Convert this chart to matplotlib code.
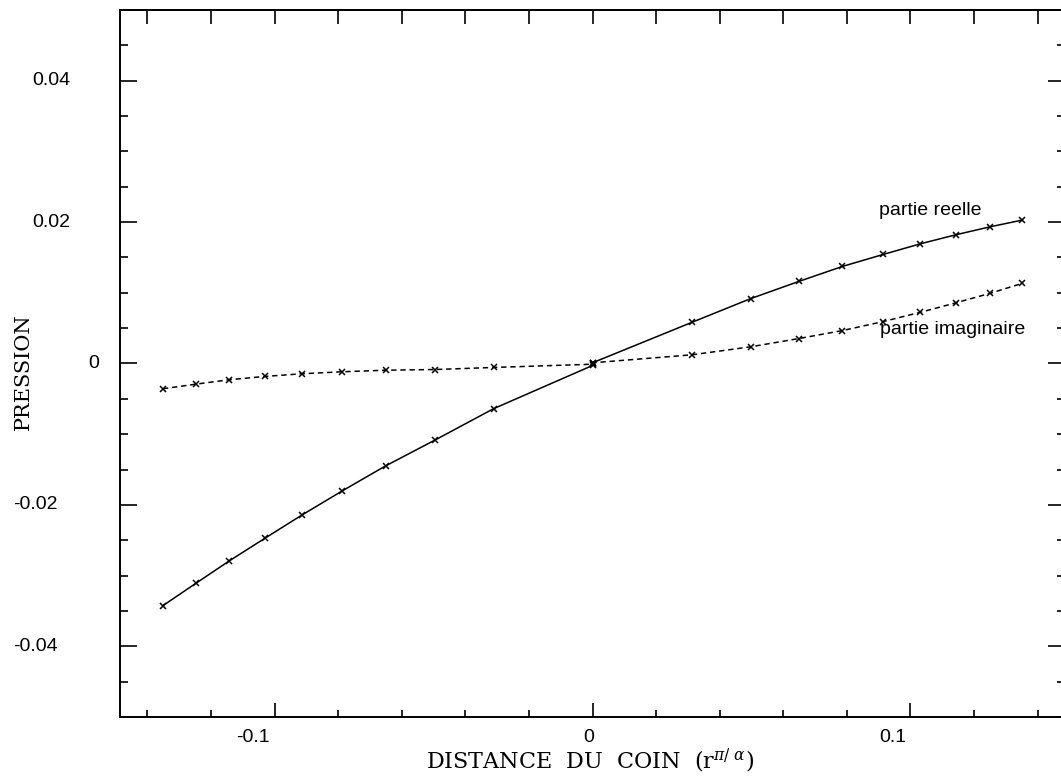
import numpy as np
import matplotlib
matplotlib.use("Agg")
import matplotlib.pyplot as plt
import matplotlib.transforms as mtransforms
from matplotlib.ticker import MultipleLocator

# points (left branch ends at 0, right branch starts at 0)
x_left = [-0.1351, -0.1247, -0.1143, -0.1031, -0.0913, -0.0787, -0.0651, -0.0495, -0.0311, 0.0]
x_right = [0.0, 0.0313, 0.0497, 0.0649, 0.0786, 0.0914, 0.1031, 0.1142, 0.1250, 0.1351]
reel_left = [-0.03425, -0.03108, -0.02794, -0.02474, -0.02141, -0.01802, -0.01449, -0.01082, -0.00639, -0.00028]
reel_right = [0.0001, 0.00583, 0.00917, 0.01161, 0.01373, 0.01542, 0.01693, 0.0182, 0.01933, 0.02028]
imag_left = [-0.00357, -0.00292, -0.0023, -0.00183, -0.00145, -0.00117, -0.00095, -0.00085, -0.00056, -0.0001]
imag_right = [0.0001, 0.00123, 0.00236, 0.00353, 0.00466, 0.00593, 0.00724, 0.00857, 0.00992, 0.01133]

xticks = [-0.1, 0.0, 0.1]
xtick_labels = ["-0.1", "0", "0.1"]
yticks = [0.04, 0.02, 0.0, -0.02, -0.04]
ytick_labels = ["0.04", "0.02", "0", "-0.02", "-0.04"]

plt.rcParams['mathtext.fontset'] = 'dejavuserif'
sans = 'Liberation Sans'
serif = 'DejaVu Serif'

fig = plt.figure(figsize=(10.61, 7.81), dpi=100)
ax = fig.add_axes([120/1061, 1 - 717/781, 945/1061, 707/781])

x = x_left + x_right
ax.plot(x, reel_left + reel_right, color='black', lw=1.1, marker='x', ms=5, mew=1.1)
ax.plot(x, imag_left + imag_right, color='black', lw=1.1, ls=(0, (3.5, 2.5)),
        marker='x', ms=5, mew=1.1)

ax.set_xlim(-0.1486, 0.1486)
ax.set_ylim(-0.05, 0.05)
for s in ax.spines.values():
    s.set_linewidth(1.4)

ax.xaxis.set_major_locator(MultipleLocator(0.1))
ax.xaxis.set_minor_locator(MultipleLocator(0.02))
ax.yaxis.set_major_locator(MultipleLocator(0.02))
ax.yaxis.set_minor_locator(MultipleLocator(0.005))
ax.tick_params(axis='x', which='major', direction='in', length=10, width=1.2, labelbottom=False)
ax.tick_params(axis='x', which='minor', direction='in', length=5, width=1.2)
ax.tick_params(axis='y', which='major', direction='in', length=12.5, width=1.2,
               right=True, labelleft=False)
ax.tick_params(axis='y', which='minor', direction='in', length=6, width=1.2, right=True)

# top axis: all ticks same length
top = ax.secondary_xaxis('top')
top.set_xticks(np.arange(-0.14, 0.1401, 0.02))
top.tick_params(direction='in', length=10, width=1.2, labeltop=False)
top.spines['top'].set_linewidth(1.4)

# tick labels, placed like the original
px = fig.dpi_scale_trans
ycent = [51, 51, 93.5, 35, 35]
for v, lab, cx in zip(yticks, ytick_labels, ycent):
    tr = mtransforms.blended_transform_factory(fig.transFigure, ax.transData)
    ax.text(cx/1061, v, lab, transform=tr, ha='center', va='center',
            fontsize=14, family=sans)
xoff = [-22, -4, -18]
for v, lab, dx in zip(xticks, xtick_labels, xoff):
    tr = mtransforms.blended_transform_factory(ax.transData, fig.transFigure)
    tr = tr + mtransforms.ScaledTranslation(dx/100, 0, px)
    ax.text(v, 1 - 737/781, lab, transform=tr, ha='center', va='center',
            fontsize=14, family=sans)

ax.text(0.0900, 0.0217, "partie reelle", ha='left', va='center', fontsize=14, family=sans)
ax.text(0.0905, 0.0048, "partie imaginaire", ha='left', va='center', fontsize=14, family=sans)

fig.text(590/1061, 1 - 761/781, r"DISTANCE  DU  COIN  (r$^{\pi/\ \alpha}$)",
         ha='center', va='center', fontsize=16, family=serif)
fig.text(23/1061, 1 - 372/781, "PRESSION", rotation=90, ha='center', va='center',
         fontsize=15, family=serif)

fig.savefig("out.png", dpi=100)
